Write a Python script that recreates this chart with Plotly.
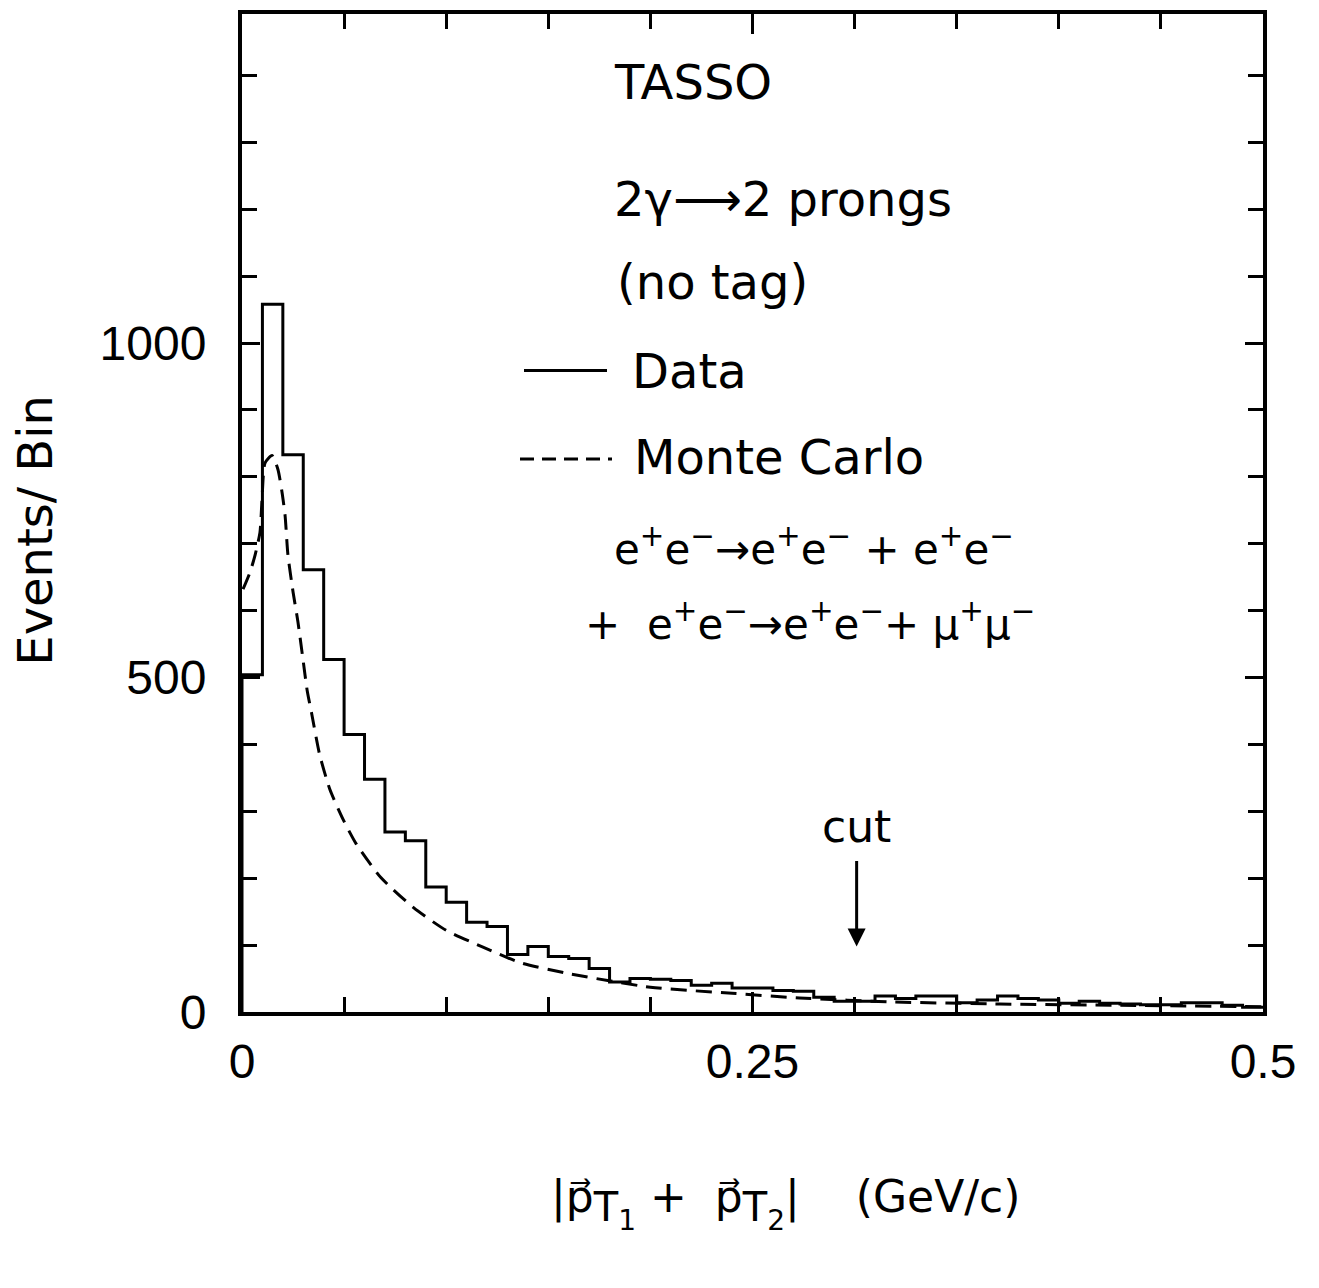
import numpy as np
import plotly.graph_objects as go

# ---- data ----
bin_width = 0.01
data_counts = [504, 1058, 833, 661, 527, 415, 348, 269, 256, 187,
               164, 134, 128, 86, 98, 83, 80, 65, 45, 50,
               49, 47, 40, 43, 36, 36, 32, 31, 22, 16,
               16, 24, 20, 24, 24, 14, 18, 24, 20, 18,
               13, 16, 13, 12, 11, 11, 14, 14, 10, 7]

mc_x = [0.0005, 0.004, 0.0064, 0.0088, 0.0098, 0.0113, 0.0147, 0.0176, 0.0196,
        0.0211, 0.0225, 0.025, 0.0274, 0.030, 0.032, 0.034, 0.038, 0.043, 0.0495,
        0.056, 0.068, 0.084, 0.100, 0.118, 0.136, 0.159, 0.200, 0.240, 0.273,
        0.319, 0.371, 0.43, 0.5]
mc_y = [632, 658, 683, 717, 766, 821, 832, 811, 777,
        742, 683, 628, 583, 524, 479, 448, 385, 333, 288,
        251, 201, 156, 122, 97, 74, 58, 37, 28, 21,
        15, 12, 10, 8]

x_tick_vals = [0, 0.25, 0.5]
x_tick_text = ["0", "0.25", "0.5"]
y_tick_vals = [0, 500, 1000]
y_tick_text = ["0", "500", "1000"]

cut_x = 0.301

# ---- build step outline for histogram ----
n = len(data_counts)
edges = [i * bin_width for i in range(n + 1)]
step_x = [0.0] + edges[:-1] + [edges[-1]]
step_y = [0] + data_counts + [data_counts[-1]]

fig = go.Figure()
fig.add_trace(go.Scatter(x=step_x, y=step_y, mode="lines", line_shape="hv",
                         line=dict(color="black", width=3), showlegend=False))
fig.add_trace(go.Scatter(x=mc_x, y=mc_y, mode="lines", line_shape="spline",
                         line=dict(color="black", width=3, dash="16px,9px", smoothing=0.6),
                         showlegend=False))

FONT = "DejaVu Sans"
TICKFONT = "Liberation Sans"

fig.update_layout(
    width=1319, height=1288,
    margin=dict(l=242, r=56, t=10, b=276),
    paper_bgcolor="white", plot_bgcolor="white",
    font=dict(family=FONT, color="black", size=48),
    showlegend=False,
)
fig.update_xaxes(
    range=[0, 0.5], showgrid=False, zeroline=False,
    showline=True, linewidth=4, linecolor="black", mirror="allticks",
    ticks="inside", ticklen=20, tickwidth=3, tickcolor="black",
    tickvals=x_tick_vals, ticktext=x_tick_text,
    tickfont=dict(family=TICKFONT, size=48, color="black"),
    ticklabelstandoff=4,
    minor=dict(dtick=0.05, tick0=0, ticks="inside", ticklen=15, tickwidth=3, tickcolor="black"),
)
fig.update_yaxes(
    range=[0, 1492], showgrid=False, zeroline=False,
    showline=True, linewidth=4, linecolor="black", mirror="allticks",
    ticks="inside", ticklen=18, tickwidth=3, tickcolor="black",
    tickvals=y_tick_vals, ticktext=y_tick_text,
    tickfont=dict(family=TICKFONT, size=48, color="black"),
    ticklabelstandoff=22,
    minor=dict(dtick=100, tick0=0, ticks="inside", ticklen=15, tickwidth=3, tickcolor="black"),
)

# ---- labels / legend text ----
def ptxt(text, x, y, xanchor="left", size=48, **kw):
    fig.add_annotation(text=text, x=x, y=y, xref="paper", yref="paper",
                       xanchor=xanchor, yanchor="middle", showarrow=False,
                       font=dict(family=FONT, size=size, color="black"), **kw)

ptxt("TASSO", 0.362, 0.932)
ptxt("2γ⟶2 prongs", 0.362, 0.815)
ptxt("(no tag)", 0.365, 0.731)
ptxt("Data", 0.380, 0.6427)
ptxt("Monte Carlo", 0.382, 0.5559)
ptxt("e<sup>+</sup>e<sup>−</sup>→e<sup>+</sup>e<sup>−</sup> + e<sup>+</sup>e<sup>−</sup>", 0.362, 0.466, size=42)
ptxt("+  e<sup>+</sup>e<sup>−</sup>→e<sup>+</sup>e<sup>−</sup>+ μ<sup>+</sup>μ<sup>−</sup>", 0.334, 0.391, size=42)

# legend line samples
fig.add_shape(type="line", xref="paper", yref="paper",
              x0=(524 - 242) / 1021, x1=(607 - 242) / 1021, y0=0.6427, y1=0.6427,
              line=dict(color="black", width=3))
fig.add_shape(type="line", xref="paper", yref="paper",
              x0=(520 - 242) / 1021, x1=(612 - 242) / 1021, y0=0.554, y1=0.554,
              line=dict(color="black", width=3, dash="14px,8px"))

# axis titles
ptxt("Events/ Bin", -0.203, 0.483, xanchor="center", textangle=-90)
ptxt("|p⃗<sub><span style='font-size:40px'>T<sub>1</sub></span></sub> +  "
     "p⃗<sub><span style='font-size:40px'>T<sub>2</sub></span></sub>|    (GeV/c)",
     0.532, -0.192, xanchor="center", size=44)

# cut marker
fig.add_annotation(text="cut", x=cut_x, y=278, xref="x", yref="y", showarrow=False,
                   font=dict(family=FONT, size=44, color="black"))
fig.add_annotation(text="", x=cut_x, y=98, ax=cut_x, ay=228, xref="x", yref="y",
                   axref="x", ayref="y", showarrow=True, arrowhead=2, arrowsize=1.2,
                   arrowwidth=3, arrowcolor="black")

fig.write_html("out.html")
